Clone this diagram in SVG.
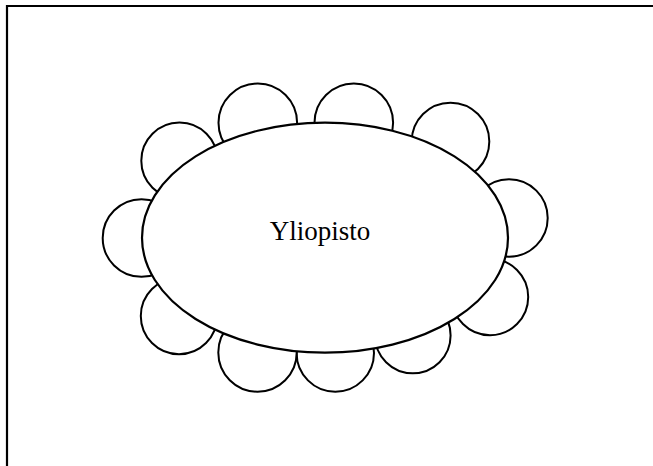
<svg xmlns="http://www.w3.org/2000/svg" width="653" height="466" viewBox="0 0 653 466">
  <style>
    .frame { stroke: #000; stroke-width: 2.2; fill: none; }
    .petal { fill: #fff; stroke: #000; stroke-width: 2; }
    .core { fill: #fff; stroke: #000; stroke-width: 2.2; }
    .label { font-family: "Liberation Serif", "Times New Roman", serif; font-size: 27px; fill: #000; }
  </style>
  <rect width="653" height="466" fill="#fff"/>
  <g id="frame">
    <path class="frame" d="M7,466 V6 H653"/>
  </g>
  <g id="petals">
    <circle id="p1" class="petal" cx="257.8" cy="122.8" r="39.3"/>
    <circle id="p2" class="petal" cx="353.8" cy="122.8" r="39.3"/>
    <circle id="p3" class="petal" cx="450.5" cy="141.5" r="38.8"/>
    <circle id="p4" class="petal" cx="509" cy="218" r="38.7"/>
    <circle id="p5" class="petal" cx="490" cy="297" r="38.2"/>
    <circle id="p6" class="petal" cx="412.8" cy="335.5" r="37.8"/>
    <circle id="p7" class="petal" cx="335.3" cy="353" r="38.7"/>
    <circle id="p8" class="petal" cx="257.5" cy="352.5" r="39.2"/>
    <circle id="p9" class="petal" cx="179" cy="316" r="38.2"/>
    <circle id="p10" class="petal" cx="141.5" cy="238" r="38.8"/>
    <circle id="p11" class="petal" cx="179.5" cy="160.7" r="38.2"/>
  </g>
  <g id="yliopisto">
    <ellipse class="core" cx="325" cy="237.7" rx="183" ry="115"/>
    <text class="label" x="320" y="240" text-anchor="middle">Yliopisto</text>
  </g>
</svg>
